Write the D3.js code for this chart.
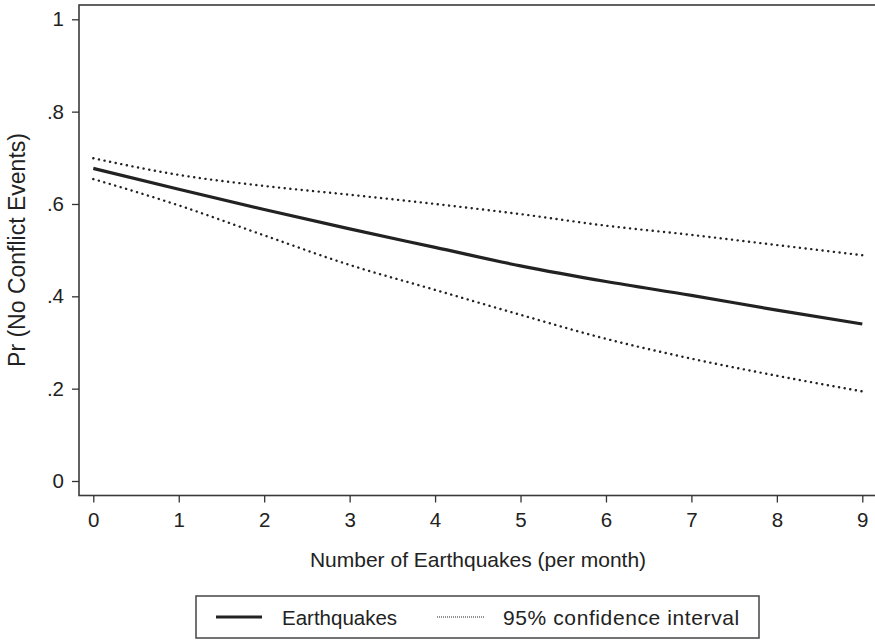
<!DOCTYPE html>
<html><head><meta charset="utf-8">
<script src="https://cdn.jsdelivr.net/npm/d3@7"></script>
<style>body{margin:0;background:#fff}svg{display:block}text{font-family:"Liberation Sans",Arial,sans-serif;fill:#222}</style>
</head><body>
<svg id="c" width="875" height="640"></svg>
<script>
const xValues = [0,1,2,3,4,5,6,7,8,9];
const predicted = [0.677,0.632,0.588,0.546,0.506,0.466,0.432,0.402,0.370,0.340];
const upperCI = [0.699,0.663,0.639,0.620,0.600,0.578,0.553,0.533,0.511,0.489];
const lowerCI = [0.654,0.597,0.532,0.468,0.414,0.360,0.308,0.265,0.228,0.194];
const xTicks = [0,1,2,3,4,5,6,7,8,9];
const yTicks = [0,0.2,0.4,0.6,0.8,1];
const yTickLabels = ["0",".2",".4",".6",".8","1"];
const legendLabels = ["Earthquakes","95% confidence interval"];

const svg = d3.select("#c");
const frame = {left:79, top:5, right:880, bottom:495.5};
const x = d3.scaleLinear().domain([0,9]).range([93.3,862.3]);
const y = d3.scaleLinear().domain([0,1]).range([481,19.3]);
const FONT = '"Liberation Sans",Arial,sans-serif';

// frame
svg.append("rect").attr("x",frame.left).attr("y",frame.top)
  .attr("width",frame.right-frame.left).attr("height",frame.bottom-frame.top)
  .attr("fill","none").attr("stroke","#3a3a3a").attr("stroke-width",1.6);

// y axis
const yAxis = svg.append("g").attr("transform",`translate(${frame.left},0)`)
  .call(d3.axisLeft(y).tickValues(yTicks).tickSize(7).tickPadding(8)
    .tickFormat((d,i)=>yTickLabels[i]));
yAxis.select(".domain").remove();
yAxis.selectAll("line").attr("stroke","#333").attr("stroke-width",1.3);
yAxis.selectAll("text").attr("font-size",20.5).attr("fill","#222").attr("font-family",FONT);

// x axis
const xAxis = svg.append("g").attr("transform",`translate(0,${frame.bottom})`)
  .call(d3.axisBottom(x).tickValues(xTicks).tickSize(7).tickPadding(10).tickFormat(d3.format("d")));
xAxis.select(".domain").remove();
xAxis.selectAll("line").attr("stroke","#333").attr("stroke-width",1.3);
xAxis.selectAll("text").attr("font-size",20.5).attr("fill","#222").attr("font-family",FONT);

// titles
svg.append("text").attr("x",478).attr("y",567).attr("text-anchor","middle")
  .attr("font-size",21).text("Number of Earthquakes (per month)");
svg.append("text").attr("transform","translate(25,250) rotate(-90)").attr("text-anchor","middle")
  .attr("font-size",23).text("Pr (No Conflict Events)");

const line = d3.line().x((d,i)=>x(xValues[i])).y(d=>y(d)).curve(d3.curveMonotoneX);

[upperCI, lowerCI].forEach(s=>{
  svg.append("path").attr("d",line(s)).attr("fill","none").attr("stroke","#222")
    .attr("stroke-width",2.4).attr("stroke-dasharray","0.1,5.6").attr("stroke-linecap","round");
});
svg.append("path").attr("d",line(predicted)).attr("fill","none").attr("stroke","#222")
  .attr("stroke-width",3.2);

// legend
svg.append("rect").attr("x",196).attr("y",596).attr("width",563).attr("height",42)
  .attr("fill","#fff").attr("stroke","#444").attr("stroke-width",1.5);
svg.append("line").attr("x1",216).attr("x2",262).attr("y1",617).attr("y2",617)
  .attr("stroke","#222").attr("stroke-width",3);
svg.append("text").attr("x",282).attr("y",624.5).attr("font-size",20.5).text(legendLabels[0]);
svg.append("line").attr("x1",437).attr("x2",484).attr("y1",617).attr("y2",617)
  .attr("stroke","#222").attr("stroke-width",1).attr("stroke-dasharray","1,1");
svg.append("text").attr("x",503).attr("y",624.5).attr("font-size",21).attr("letter-spacing",0.6)
  .text(legendLabels[1]);
</script>
</body></html>
